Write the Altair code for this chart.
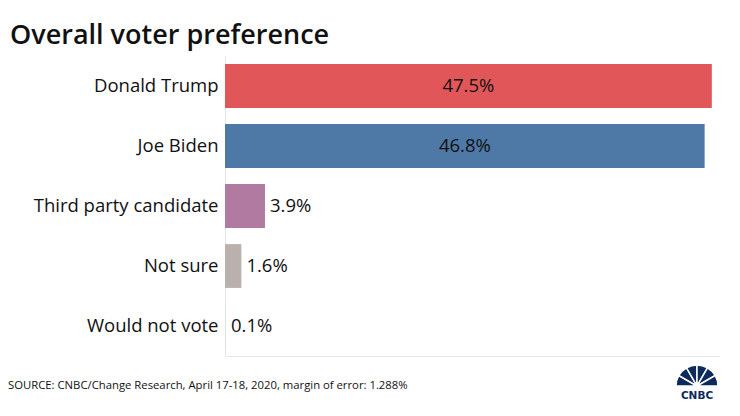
import altair as alt
import pandas as pd
import math

candidates = ["Donald Trump", "Joe Biden", "Third party candidate", "Not sure", "Would not vote"]
shares = [47.5, 46.8, 3.9, 1.6, 0.1]
colors = ["#e15759", "#4e79a7", "#b07aa1", "#bab0ac", "#d7e6e5"]
labels = ["47.5%", "46.8%", "3.9%", "1.6%", "0.1%"]

title_text = "Overall voter preference"
source_text = "SOURCE: CNBC/Change Research, April 17-18, 2020, margin of error: 1.288%"

df = pd.DataFrame({"cand": candidates, "share": shares, "color": colors, "label": labels})

FONT = "Open Sans"
FS = 18.5
y_enc = alt.Y("cand:N", sort=candidates, title=None,
              scale=alt.Scale(paddingInner=0.27, paddingOuter=0.135),
              axis=alt.Axis(labelFontSize=FS, labelColor="#111", labelFont=FONT,
                            ticks=False, labelPadding=7, domainColor="#e6e6e6",
                            labelLimit=300))
x_scale = alt.Scale(domain=[0, 48.3], nice=False)
x_enc = alt.X("share:Q", scale=x_scale, title=None,
              axis=alt.Axis(labels=False, ticks=False, grid=False, domainColor="#e6e6e6"))

base = alt.Chart(df)
bars = base.mark_bar().encode(x=x_enc, y=y_enc, color=alt.Color("color:N", scale=None))

inside = base.transform_filter("datum.share > 10").transform_calculate(
    mid="datum.share / 2").mark_text(fontSize=FS, font=FONT, color="#111").encode(
    x=alt.X("mid:Q", scale=x_scale), y=alt.Y("cand:N", sort=candidates), text="label:N")

outside = base.transform_filter("datum.share <= 10").mark_text(
    fontSize=FS, font=FONT, color="#111", align="left", dx=5).encode(
    x=alt.X("share:Q", scale=x_scale), y=alt.Y("cand:N", sort=candidates), text="label:N")

annot = pd.DataFrame({"t": [0]})
title = alt.Chart(annot).mark_text(text=title_text, fontSize=27, fontWeight=600, font=FONT,
                                   align="left", baseline="alphabetic", color="#111").encode(
    x=alt.value(-215), y=alt.value(-12))
source = alt.Chart(annot).mark_text(text=source_text, fontSize=11.3, font=FONT,
                                    align="left", baseline="alphabetic", color="#111").encode(
    x=alt.value(-217), y=alt.value(333))

n = 6
start, end = 1.5 * math.pi, 2.5 * math.pi
fan = pd.DataFrame({
    "a": [start + i * (end - start) / n for i in range(n)],
    "b": [start + (i + 1) * (end - start) / n for i in range(n)],
})
logo = alt.Chart(fan).mark_arc(color="#0c2a5c", stroke="white", strokeWidth=1.5,
                                radius=21, innerRadius=3).encode(
    theta=alt.Theta("a:Q", scale=None), theta2="b:Q",
    x=alt.value(472), y=alt.value(330))
logo_text = alt.Chart(annot).mark_text(text="CNBC", fontSize=10.5, fontWeight="bold",
                                       font="DejaVu Sans", color="#0c2a5c").encode(
    x=alt.value(472), y=alt.value(340))

chart = alt.layer(bars, inside, outside, title, source, logo, logo_text).properties(
    width=495, height=300,
    padding={"left": 217, "top": 48, "right": 10, "bottom": 52},
    autosize=alt.AutoSizeParams(type="none"),
).configure_view(stroke=None)

chart.save("out.html", embed_options={"renderer": "svg", "actions": False})
